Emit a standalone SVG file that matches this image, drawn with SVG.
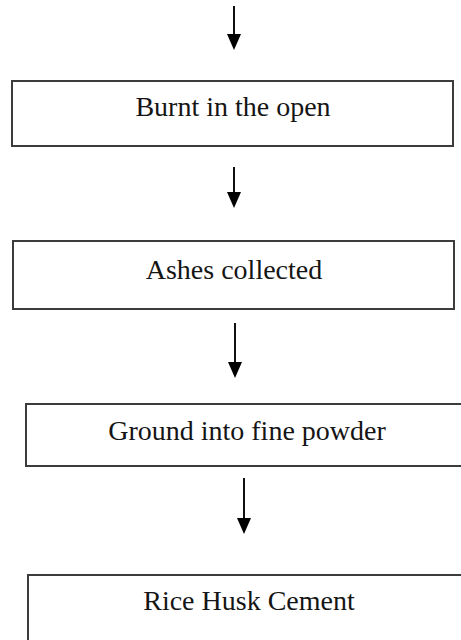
<svg xmlns="http://www.w3.org/2000/svg" width="461" height="640" viewBox="0 0 461 640">
  <style>
    .box { fill: #ffffff; stroke: #3c3c3c; stroke-width: 2; }
    .lbl { font-family: "Liberation Serif", "Times New Roman", serif; font-size: 28px; fill: #151515; text-anchor: middle; }
    .conn { stroke: #111111; stroke-width: 2; fill: none; }
    .head { fill: #000000; }
  </style>
  <rect width="461" height="640" fill="#ffffff"/>
  <g id="connectors">
    <line class="conn" x1="234" y1="6" x2="234" y2="36"/>
    <path class="head" d="M227,34 L241,34 L234,50 Z"/>
    <line class="conn" x1="234" y1="167" x2="234" y2="194"/>
    <path class="head" d="M227,192 L241,192 L234,208 Z"/>
    <line class="conn" x1="235" y1="323" x2="235" y2="364"/>
    <path class="head" d="M228,362 L242,362 L235,378 Z"/>
    <line class="conn" x1="244" y1="478" x2="244" y2="520"/>
    <path class="head" d="M237,518 L251,518 L244,534 Z"/>
  </g>
  <g id="node-burnt">
    <rect class="box" x="12" y="81" width="441" height="65"/>
    <text class="lbl" x="233" y="116">Burnt in the open</text>
  </g>
  <g id="node-ashes">
    <rect class="box" x="13" y="241" width="441" height="68"/>
    <text class="lbl" x="234" y="279">Ashes collected</text>
  </g>
  <g id="node-ground">
    <rect class="box" x="26" y="404" width="440" height="62"/>
    <text class="lbl" x="247" y="440">Ground into fine powder</text>
  </g>
  <g id="node-cement">
    <rect class="box" x="28" y="575" width="440" height="80"/>
    <text class="lbl" x="249" y="610">Rice Husk Cement</text>
  </g>
</svg>
